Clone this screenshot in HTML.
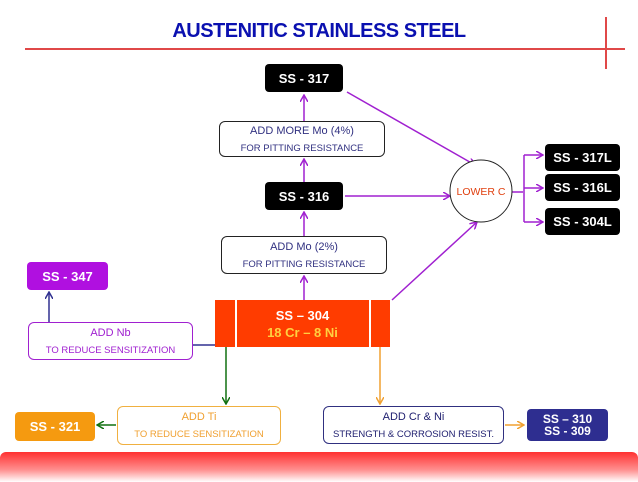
<!DOCTYPE html>
<html><head><style>
body{margin:0;width:638px;height:479px;background:#fff;position:relative;overflow:hidden;font-family:"Liberation Sans",sans-serif}
.b{position:absolute;box-sizing:border-box;display:flex;flex-direction:column;align-items:center;justify-content:center;text-align:center;border-radius:4px}
.blk{background:#000;color:#fff;font-size:13px;font-weight:bold}
.t1{font-size:11px}.t2{font-size:9.5px;margin-top:6px}
</style></head><body>
<div style="position:absolute;left:0;top:20px;width:638px;text-align:center;color:#0a10b0;font-size:20px;font-weight:bold;letter-spacing:-0.5px">AUSTENITIC STAINLESS STEEL</div>
<div style="position:absolute;left:25px;top:48px;width:600px;height:1.5px;background:#e04848"></div>
<div style="position:absolute;left:605px;top:17px;width:1.5px;height:52px;background:#e04848"></div>
<svg style="position:absolute;left:0;top:0" width="638" height="479">
<defs>
<marker id="p" markerWidth="8" markerHeight="8" refX="7" refY="4" orient="auto" markerUnits="userSpaceOnUse"><path d="M0,0 L7,4 L0,8" fill="none" stroke="#a020d0" stroke-width="1.5"/></marker>
<marker id="n" markerWidth="8" markerHeight="8" refX="7" refY="4" orient="auto" markerUnits="userSpaceOnUse"><path d="M0,0 L7,4 L0,8" fill="none" stroke="#303090" stroke-width="1.5"/></marker>
<marker id="g" markerWidth="8" markerHeight="8" refX="7" refY="4" orient="auto" markerUnits="userSpaceOnUse"><path d="M0,0 L7,4 L0,8" fill="none" stroke="#107010" stroke-width="1.5"/></marker>
<marker id="o" markerWidth="8" markerHeight="8" refX="7" refY="4" orient="auto" markerUnits="userSpaceOnUse"><path d="M0,0 L7,4 L0,8" fill="none" stroke="#f0a030" stroke-width="1.5"/></marker>
</defs>
<g stroke="#a020d0" stroke-width="1.5" fill="none">
<line x1="304" y1="121" x2="304" y2="95" marker-end="url(#p)"/>
<line x1="304" y1="182" x2="304" y2="159" marker-end="url(#p)"/>
<line x1="304" y1="236" x2="304" y2="212" marker-end="url(#p)"/>
<line x1="304" y1="300" x2="304" y2="276" marker-end="url(#p)"/>
<line x1="347" y1="92" x2="475" y2="165" marker-end="url(#p)"/>
<line x1="345" y1="196" x2="450" y2="196" marker-end="url(#p)"/>
<line x1="392" y1="300" x2="477" y2="222" marker-end="url(#p)"/>
<line x1="512" y1="192" x2="523" y2="192"/>
<polyline points="543,156 524,156 524,221 543,221" stroke="none"/>
<line x1="524" y1="155" x2="524" y2="222"/>
<line x1="524" y1="155" x2="543" y2="155" marker-end="url(#p)"/>
<line x1="524" y1="188" x2="543" y2="188" marker-end="url(#p)"/>
<line x1="524" y1="222" x2="543" y2="222" marker-end="url(#p)"/>
</g>
<ellipse cx="481" cy="191" rx="31" ry="31" fill="#fff" stroke="#222" stroke-width="1"/>
<text x="481" y="195" text-anchor="middle" font-size="10.5" fill="#e04010" font-family="Liberation Sans">LOWER C</text>
<g stroke="#303090" stroke-width="1.5" fill="none">
<line x1="193" y1="345" x2="215" y2="345"/>
<line x1="49" y1="322" x2="49" y2="292" marker-end="url(#n)"/>
</g>
<g stroke="#107010" stroke-width="1.5" fill="none">
<line x1="226" y1="347" x2="226" y2="404" marker-end="url(#g)"/>
<line x1="116" y1="425" x2="97" y2="425" marker-end="url(#g)"/>
</g>
<g stroke="#f0a030" stroke-width="1.5" fill="none">
<line x1="380" y1="347" x2="380" y2="404" marker-end="url(#o)"/>
<line x1="505" y1="425" x2="524" y2="425" marker-end="url(#o)"/>
</g>
</svg>
<div class="b blk" style="left:265px;top:64px;width:78px;height:28px">SS - 317</div>
<div class="b" style="left:219px;top:121px;width:166px;height:36px;border:1px solid #222;border-radius:6px;color:#303080"><div class="t1">ADD MORE Mo (4%)</div><div class="t2">FOR PITTING RESISTANCE</div></div>
<div class="b blk" style="left:265px;top:182px;width:78px;height:28px">SS - 316</div>
<div class="b" style="left:221px;top:236px;width:166px;height:38px;border:1px solid #222;border-radius:6px;color:#303080"><div class="t1">ADD Mo (2%)</div><div class="t2">FOR PITTING RESISTANCE</div></div>
<div class="b" style="left:215px;top:300px;width:175px;height:47px;background:#ff3c00;border-radius:0;color:#fff;font-size:13px;font-weight:bold"><div>SS – 304</div><div style="color:#ffd040;margin-top:2px">18 Cr – 8 Ni</div></div>
<div style="position:absolute;left:235px;top:300px;width:1.5px;height:47px;background:#fff"></div>
<div style="position:absolute;left:369px;top:300px;width:1.5px;height:47px;background:#fff"></div>
<div class="b blk" style="left:545px;top:144px;width:75px;height:27px">SS - 317L</div>
<div class="b blk" style="left:545px;top:174px;width:75px;height:27px">SS - 316L</div>
<div class="b blk" style="left:545px;top:208px;width:75px;height:27px">SS - 304L</div>
<div class="b" style="left:27px;top:262px;width:81px;height:28px;background:#b010e0;color:#fff;font-size:13px;font-weight:bold">SS - 347</div>
<div class="b" style="left:28px;top:322px;width:165px;height:38px;border:1px solid #a020d0;border-radius:6px;color:#a020d0"><div class="t1">ADD Nb</div><div class="t2">TO REDUCE SENSITIZATION</div></div>
<div class="b" style="left:15px;top:412px;width:80px;height:29px;background:#f59a10;color:#fff;font-size:13px;font-weight:bold">SS - 321</div>
<div class="b" style="left:117px;top:406px;width:164px;height:39px;border:1px solid #f0b040;border-radius:6px;color:#f0a030"><div class="t1">ADD Ti</div><div class="t2">TO REDUCE SENSITIZATION</div></div>
<div class="b" style="left:323px;top:406px;width:181px;height:38px;border:1px solid #303080;border-radius:6px;color:#202070"><div class="t1">ADD Cr &amp; Ni</div><div class="t2">STRENGTH &amp; CORROSION RESIST.</div></div>
<div class="b" style="left:527px;top:409px;width:81px;height:32px;background:#2e2e90;color:#fff;font-size:12px;font-weight:bold;line-height:12px"><div>SS – 310</div><div>SS - 309</div></div>
<div style="position:absolute;left:0;top:452px;width:638px;height:30px;border-radius:6px 6px 0 0;background:linear-gradient(#ff3030,#ff9090 60%,#fff)"></div>
</body></html>
